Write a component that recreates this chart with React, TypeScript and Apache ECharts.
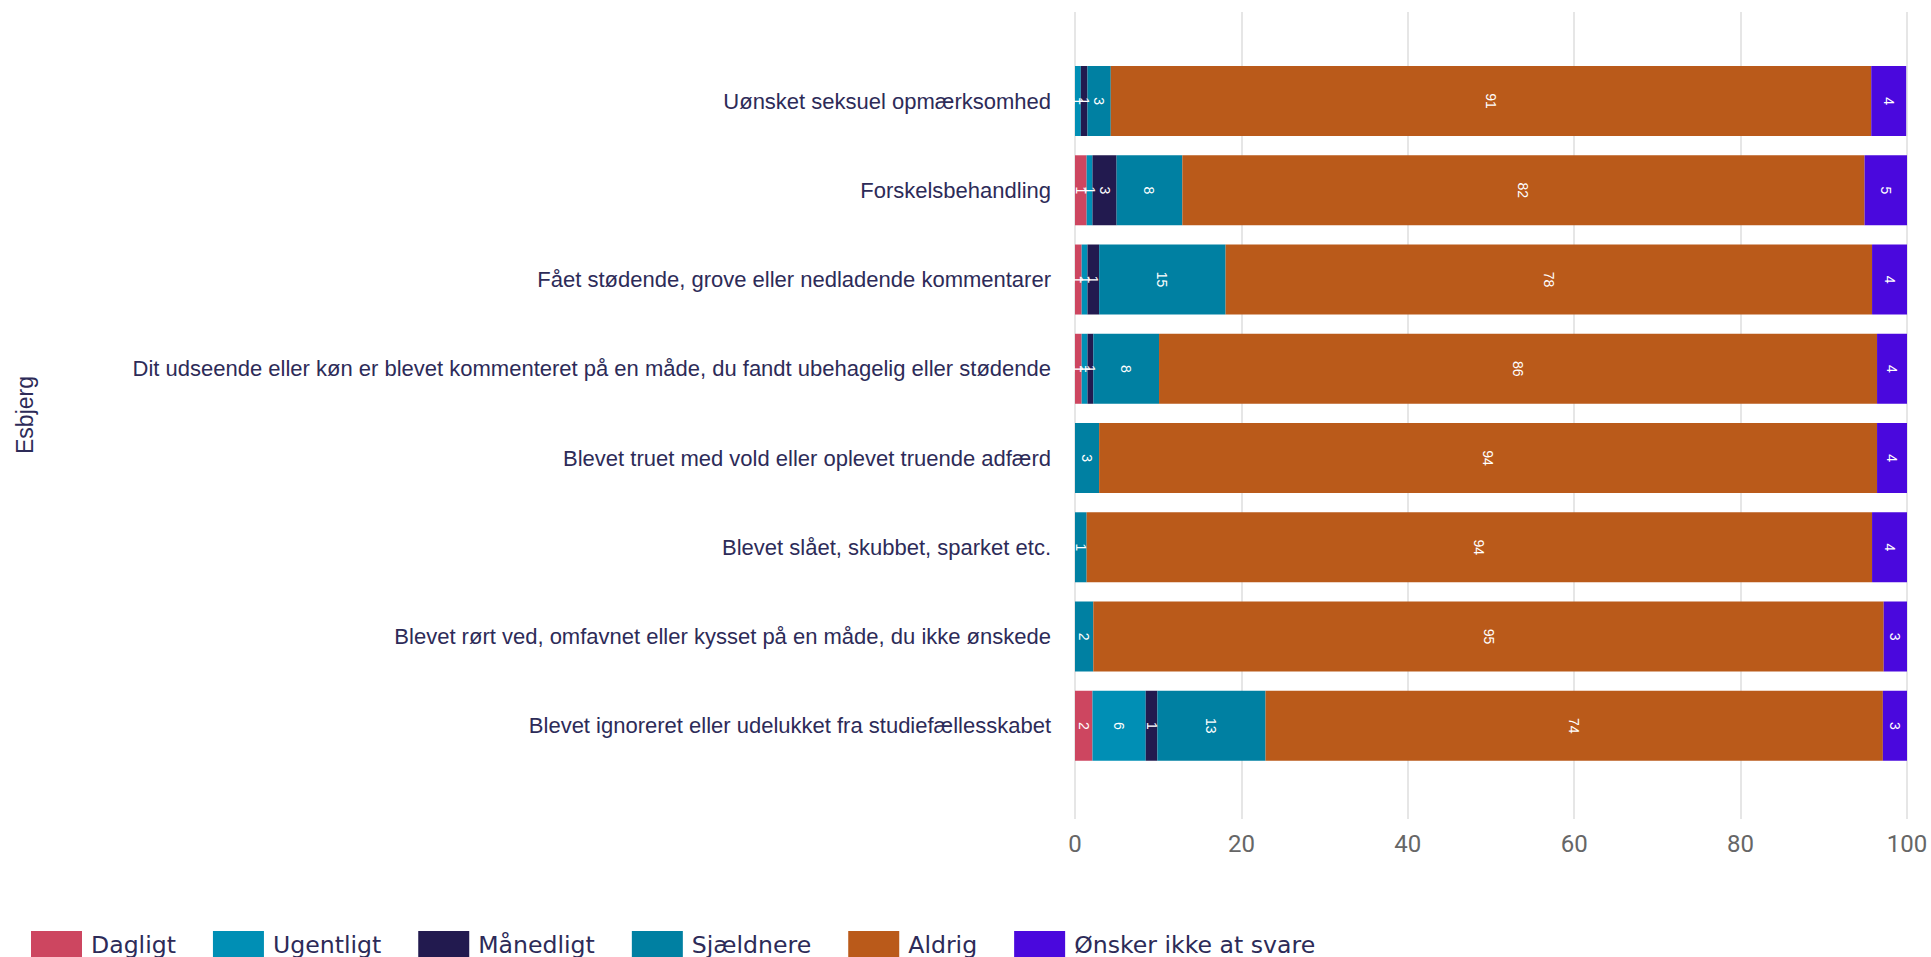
import React, { useEffect, useRef } from "react";
import * as echarts from "echarts";

const categories = [
  "Uønsket seksuel opmærksomhed",
  "Forskelsbehandling",
  "Fået stødende, grove eller nedladende kommentarer",
  "Dit udseende eller køn er blevet kommenteret på en måde, du fandt ubehagelig eller stødende",
  "Blevet truet med vold eller oplevet truende adfærd",
  "Blevet slået, skubbet, sparket etc.",
  "Blevet rørt ved, omfavnet eller kysset på en måde, du ikke ønskede",
  "Blevet ignoreret eller udelukket fra studiefællesskabet",
];

const seriesNames = ["Dagligt", "Ugentligt", "Månedligt", "Sjældnere", "Aldrig", "Ønsker ikke at svare"];
const seriesColors = ["#cd4660", "#008fb5", "#221a4f", "#0080a2", "#ba5a1a", "#4a08dd"];

const dagligt = [0, 1.4, 0.8, 0.8, 0, 0, 0, 2.1];
const ugentligt = [0.7, 0.7, 0.7, 0.7, 0, 0, 0, 6.4];
const maanedligt = [0.8, 2.9, 1.4, 0.7, 0, 0, 0, 1.4];
const sjaeldnere = [2.8, 7.9, 15.2, 7.9, 2.9, 1.4, 2.2, 13.0];
const aldrig = [91.4, 82.0, 77.7, 86.3, 93.5, 94.4, 95.0, 74.2];
const oensker = [4.2, 5.1, 4.2, 3.6, 3.6, 4.2, 2.8, 2.9];

const seriesValues = [dagligt, ugentligt, maanedligt, sjaeldnere, aldrig, oensker];

const xTicks = [0, 20, 40, 60, 80, 100];
const groupLabel = "Esbjerg";

export default function App() {
  const ref = useRef<HTMLDivElement>(null);

  useEffect(() => {
    document.body.style.margin = "0";
    if (!ref.current) return;
    const chart = echarts.init(ref.current, undefined, { renderer: "svg" });
    const navy = "#2d2b58";
    chart.setOption({
      animation: false,
      backgroundColor: "#ffffff",
      grid: [
        { left: 1075, right: 24, top: 12, height: 807, containLabel: false },
        { left: 1075, right: 24, top: 56.4, height: 714, containLabel: false },
      ],
      xAxis: [
        {
          type: "value",
          gridIndex: 0,
          min: xTicks[0],
          max: xTicks[xTicks.length - 1],
          interval: xTicks[1] - xTicks[0],
          axisLine: { show: false },
          axisTick: { show: false },
          splitLine: { show: true, lineStyle: { color: "#dedede", width: 1.5 } },
          axisLabel: {
            color: "#666666",
            fontSize: 24,
            fontFamily: "Roboto",
            margin: 13,
          },
        },
        {
          type: "value",
          gridIndex: 1,
          min: 0,
          max: 100,
          show: false,
        },
      ],
      yAxis: [
        {
          type: "value",
          gridIndex: 0,
          show: false,
        },
        {
          type: "category",
          gridIndex: 1,
          data: categories,
          inverse: true,
          axisLine: { show: false },
          axisTick: { show: false },
          splitLine: { show: false },
          axisLabel: {
            color: navy,
            fontSize: 22,
            fontFamily: "Liberation Sans",
            margin: 24,
          },
        },
      ],
      legend: {
        data: seriesNames,
        left: 31,
        top: 931,
        padding: 0,
        itemWidth: 51,
        itemHeight: 27,
        itemGap: 37,
        icon: "rect",
        textStyle: {
          color: navy,
          fontSize: 23.6,
          fontFamily: "DejaVu Sans",
          padding: [0, 0, 0, 4],
        },
      },
      graphic: [
        {
          type: "text",
          x: 25,
          y: 415,
          rotation: Math.PI / 2,
          style: {
            text: groupLabel,
            fill: navy,
            fontSize: 23,
            fontFamily: "Liberation Sans",
            align: "center",
            verticalAlign: "middle",
          },
        },
      ],
      series: seriesNames.map((name, i) => ({
        name,
        type: "bar",
        stack: "total",
        xAxisIndex: 1,
        yAxisIndex: 1,
        barWidth: 70,
        itemStyle: { color: seriesColors[i] },
        label: {
          show: true,
          position: "inside",
          rotate: -90,
          color: "#ffffff",
          fontSize: 14,
          fontFamily: "Liberation Sans",
          formatter: (p: any) => (p.value > 0 ? String(Math.round(p.value)) : ""),
        },
        data: seriesValues[i],
      })),
    });
    return () => chart.dispose();
  }, []);

  return <div ref={ref} style={{ width: 1931, height: 957 }} />;
}
